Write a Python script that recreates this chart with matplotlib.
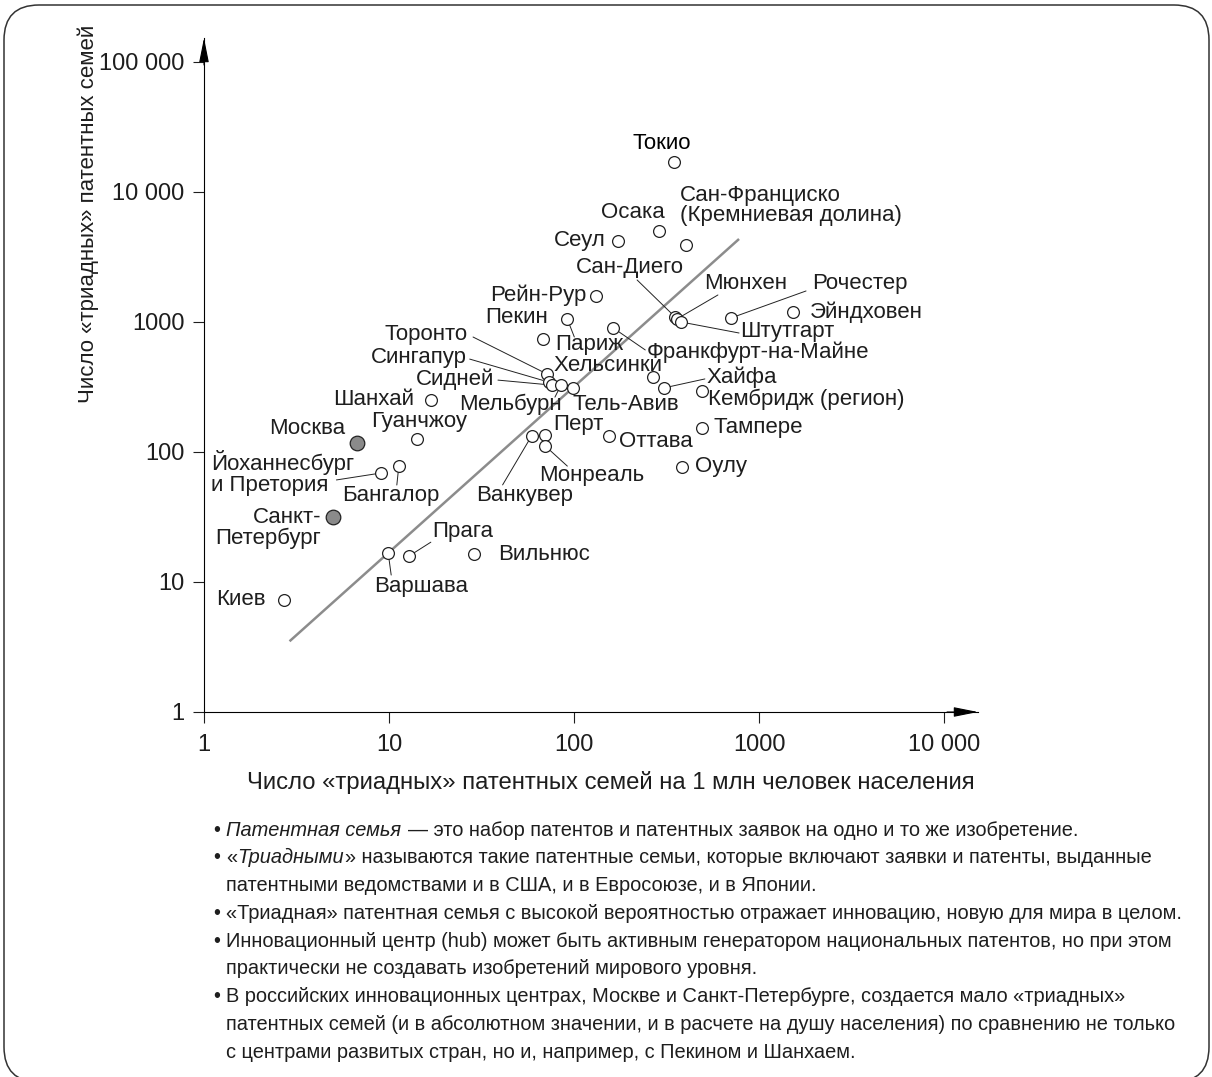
import numpy as np
import matplotlib
matplotlib.use('Agg')
import matplotlib.pyplot as plt
from matplotlib.patches import FancyBboxPatch
from matplotlib.ticker import NullLocator
from matplotlib.transforms import IdentityTransform

plt.rcParams['font.family'] = ['Liberation Sans', 'DejaVu Sans']

# cities: patent families per 1 mln population (x) vs total triadic families (y)
cities = ['Токио', 'Осака', 'Сан-Франциско\n(Кремниевая долина)', 'Сеул', 'Сан-Диего',
          'Мюнхен', 'Штутгарт', 'Рейн-Рур', 'Рочестер', 'Эйндховен', 'Пекин', 'Париж',
          'Франкфурт-на-Майне', 'Торонто', 'Сингапур', 'Сидней', 'Мельбурн', 'Тель-Авив',
          'Хельсинки', 'Хайфа', 'Кембридж (регион)', 'Тампере', 'Оттава', 'Оулу', 'Перт',
          'Монреаль', 'Ванкувер', 'Шанхай', 'Гуанчжоу', 'Москва', 'Йоханнесбург\nи Претория',
          'Бангалор', 'Санкт-\nПетербург', 'Варшава', 'Прага', 'Вильнюс', 'Киев']
per_million = [347, 288, 403, 173, 352,
               360, 379, 131, 706, 1527, 68, 92,
               163, 71.5, 73, 76, 85, 99,
               267, 306, 492, 492, 155, 384, 70,
               70, 59, 16.9, 14.2, 6.7, 9.1,
               11.3, 5.0, 9.9, 12.8, 28.8, 2.7]
families = [17000, 5000, 3900, 4200, 1093,
            1055, 1000, 1585, 1074, 1194, 740, 1055,
            900, 398, 345, 327, 327, 311,
            378, 311, 295, 153, 133, 77, 135,
            111, 133, 251, 126, 117, 69,
            78, 31.6, 16.7, 15.8, 16.4, 7.3]
russian = ['Москва', 'Санкт-\nПетербург']

trend_x = [2.9, 780]
trend_y = [3.5, 4350]

x_ticks = [1, 10, 100, 1000, 10000]
x_ticklabels = ['1', '10', '100', '1000', '10 000']
y_ticks = [1, 10, 100, 1000, 10000, 100000]
y_ticklabels = ['1', '10', '100', '1000', '10 000', '100 000']

# label placement: text offset (px), alignment, optional leader line start (px)
layout = {
    'Токио': (-12, 19, 'center', None),
    'Осака': (-26, 19, 'center', None),
    'Сан-Франциско\n(Кремниевая долина)': (-6, 40, 'left', None),
    'Сеул': (-12, 0, 'right', None),
    'Сан-Диего': (-45, 49, 'center', (-38, 37)),
    'Мюнхен': (27, 35, 'left', (41, 24)),
    'Штутгарт': (59, -10, 'left', (58, -11)),
    'Рейн-Рур': (-9, 1, 'right', None),
    'Рочестер': (81, 34, 'left', (75, 27)),
    'Эйндховен': (17, 0, 'left', None),
    'Пекин': (5, 21, 'right', None),
    'Париж': (-12, -26, 'left', (7, -18)),
    'Франкфурт-на-Майне': (33, -24, 'left', (32, -22)),
    'Торонто': (-79, 40, 'right', (-74, 37)),
    'Сингапур': (-82, 25, 'right', (-79, 23)),
    'Сидней': (-58, 6, 'right', (-54, 5)),
    'Мельбурн': (-51, -19, 'center', (-6, -12)),
    'Тель-Авив': (-1, -17, 'left', None),
    'Хельсинки': (10, 11, 'right', None),
    'Хайфа': (43, 11, 'left', (41, 9)),
    'Кембридж (регион)': (6, -8, 'left', None),
    'Тампере': (11, 0, 'left', None),
    'Оттава': (10, -6, 'left', None),
    'Оулу': (13, 0, 'left', None),
    'Перт': (8, 11, 'left', None),
    'Монреаль': (-6, -29, 'left', (22, -20)),
    'Ванкувер': (-7, -60, 'center', (-29, -49)),
    'Шанхай': (-17, 1, 'right', None),
    'Гуанчжоу': (2, 17, 'center', None),
    'Москва': (-12, 15, 'right', None),
    'Йоханнесбург\nи Претория': (-170, 0, 'left', (-45, -7)),
    'Бангалор': (-8, -29, 'center', (-2, -19)),
    'Санкт-\nПетербург': (-12, -11, 'right', None),
    'Варшава': (33, -33, 'center', (3, -22)),
    'Прага': (23, 25, 'left', (22, 14)),
    'Вильнюс': (24, 0, 'left', None),
    'Киев': (-18, 0, 'right', None),
}

notes = [
    [('•', 'normal'), ('Патентная семья', 'italic'),
     (' — это набор патентов и патентных заявок на одно и то же изобретение.', 'normal')],
    [('•', 'normal'), ('«', 'normal'), ('Триадными', 'italic'),
     ('» называются такие патентные семьи, которые включают заявки и патенты, выданные', 'normal')],
    [(None, None), ('патентными ведомствами и в США, и в Евросоюзе, и в Японии.', 'normal')],
    [('•', 'normal'), ('«Триадная» патентная семья с высокой вероятностью отражает инновацию, новую для мира в целом.', 'normal')],
    [('•', 'normal'), ('Инновационный центр (hub) может быть активным генератором национальных патентов, но при этом', 'normal')],
    [(None, None), ('практически не создавать изобретений мирового уровня.', 'normal')],
    [('•', 'normal'), ('В российских инновационных центрах, Москве и Санкт-Петербурге, создается мало «триадных»', 'normal')],
    [(None, None), ('патентных семей (и в абсолютном значении, и в расчете на душу населения) по сравнению не только', 'normal')],
    [(None, None), ('с центрами развитых стран, но и, например, с Пекином и Шанхаем.', 'normal')],
]

W, H = 1212, 1077
TXT = '#1e1e1e'
fig = plt.figure(figsize=(W / 100, H / 100), dpi=100)

# rounded frame around the whole figure
frame = FancyBboxPatch((4, H - 1082), 1205, 1077, boxstyle='round,pad=0,rounding_size=35',
                       transform=IdentityTransform(), fill=False, ec='#333333', lw=1.1)
fig.add_artist(frame)

ax = fig.add_axes([204 / W, 1 - 712 / H, 774 / W, 674 / H])
ax.set_xscale('log')
ax.set_yscale('log')
ax.set_xlim(1, 10 ** (774 / 185))
ax.set_ylim(1, 10 ** (674 / 130))
ax.patch.set_alpha(0)
for s in ['top', 'right']:
    ax.spines[s].set_visible(False)
for s in ['left', 'bottom']:
    ax.spines[s].set_linewidth(0.8)
ax.set_xticks(x_ticks)
ax.set_xticklabels(x_ticklabels)
ax.set_yticks(y_ticks)
ax.set_yticklabels(y_ticklabels)
ax.xaxis.set_minor_locator(NullLocator())
ax.yaxis.set_minor_locator(NullLocator())
ax.tick_params(axis='both', direction='out', length=8, width=0.8, labelsize=17, colors=TXT)
ax.tick_params(axis='x', pad=8)
ax.tick_params(axis='y', pad=6)

# axis arrows
for xy, xyt in [((1, 0), (0.96, 0)), ((0, 1), (0, 0.96))]:
    ax.annotate('', xy=xy, xytext=xyt, xycoords='axes fraction',
                arrowprops=dict(arrowstyle='-|>,head_length=1.5,head_width=0.3',
                                color='black', lw=0.8, shrinkA=0, shrinkB=0))

ax.plot(trend_x, trend_y, color='#8c8c8c', lw=1.8, zorder=1, solid_capstyle='butt')

for name, xv, yv in zip(cities, per_million, families):
    filled = name in russian
    ax.plot(xv, yv, 'o', ms=10.5 if filled else 8.5, mfc='#8a8a8a' if filled else 'white',
            mec='#222222', mew=0.9, zorder=4)
    dx, dy, ha, lead = layout[name]
    ax.annotate(name, xy=(xv, yv), xytext=(dx, dy), textcoords='offset pixels',
                ha=ha, va='center', fontsize=16, linespacing=0.95,
                color='black' if name == 'Токио' else TXT,
                multialignment=ha if ha != 'center' else 'center', zorder=5)
    if lead is not None:
        ax.annotate('', xy=(xv, yv), xytext=lead, textcoords='offset pixels',
                    arrowprops=dict(arrowstyle='-', color='#222222', lw=0.7,
                                    shrinkA=0, shrinkB=4.2), zorder=3)

fig.text(88, H - 214, 'Число «триадных» патентных семей', transform=IdentityTransform(),
         rotation=90, ha='center', va='center', fontsize=16, color=TXT)
fig.text(611, H - 783, 'Число «триадных» патентных семей на 1 млн человек населения',
         transform=IdentityTransform(), ha='center', va='center', fontsize=17.2, color=TXT)

# footnotes with italic runs
renderer = fig.canvas.get_renderer()
probe = fig.text(0, 0, 'н н', fontsize=14.4)
w2 = probe.get_window_extent(renderer).width
probe.set_text('нн')
space_w = w2 - probe.get_window_extent(renderer).width
probe.remove()

y = 830
for line in notes:
    x = 226
    for text, style in line:
        if text is None:
            continue
        if text == '•':
            fig.text(213, H - y, '•', transform=IdentityTransform(), ha='left', va='center',
                     fontsize=14.4, color=TXT)
            continue
        if text.startswith(' '):
            x += space_w
            text = text[1:]
        t = fig.text(x, H - y, text, transform=IdentityTransform(), ha='left', va='center',
                     fontsize=14.4, style=style, color=TXT)
        x = t.get_window_extent(renderer).x1 + (1 if style == 'italic' else 0)
    y += 27.8

fig.savefig('out.png', dpi=100)
